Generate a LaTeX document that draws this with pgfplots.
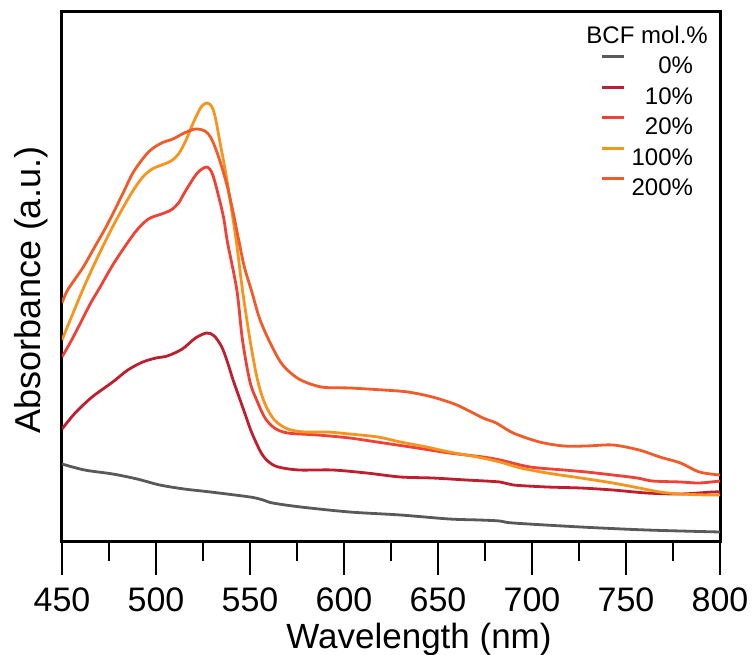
\documentclass[border=0pt]{standalone}
\usepackage{fontspec}
\setmainfont{Liberation Sans}
\usepackage{pgfplots}
\pgfplotsset{compat=1.18}
\definecolor{c0}{RGB}{88,89,91}
\definecolor{c10}{RGB}{190,30,45}
\definecolor{c20}{RGB}{239,65,54}
\definecolor{c100}{RGB}{247,148,29}
\definecolor{c200}{RGB}{241,90,41}
\begin{document}
\begin{tikzpicture}
\begin{axis}[
  name=ax,
  scale only axis, width=658pt, height=530pt,
  xmin=450, xmax=800, ymin=0, ymax=530,
  axis line style={line width=3pt},
  xtick={450,500,...,800}, minor xtick={475,525,...,775},
  ytick=\empty,
  xtick pos=lower,
  tick align=outside,
  major tick length=33pt, minor tick length=19pt,
  every tick/.style={black, line width=2.5pt},
  /pgf/number format/assume math mode=true,
  /pgf/number format/1000 sep={},
  xticklabel style={font=\fontsize{34}{40}\selectfont, yshift=-9pt},
  xlabel={Wavelength (nm)}, ylabel={Absorbance (a.u.)},
  xlabel style={font=\fontsize{35}{42}\selectfont, at={(axis description cs:0.5,0)}, anchor=base, yshift=-106pt, xshift=28pt},
  ylabel style={font=\fontsize{36}{42}\selectfont, at={(axis description cs:-0.0334,0.4755)}, anchor=base},
  legend style={at={(0.959,0.918)}, anchor=north east, draw=none, fill=none,
    inner sep=0pt, outer sep=0pt, font=\fontsize{24}{28}\selectfont,
    row sep=12pt, column sep=6pt,
    nodes={inner sep=0pt, text height=17pt, text depth=0pt}},
  legend cell align=right,
  legend image code/.code={\draw[line width=3pt] (0pt,8.5pt) -- (22pt,8.5pt);},
  every axis plot/.append style={line width=2.8pt, line join=round, smooth, tension=0.5},
]
\addplot[c0] coordinates {(450,78)(462,72)(477,68)(490,63)(502,57)(515,53)(529,50)(550,45)(557,42)(562,39)(577,35)(603,30)(630,27)(656,23)(672,22)(683,21)(690,19)(726,15)(761,12)(800,10)};
\addlegendentry{0\%}
\addplot[c10] coordinates {(450,113)(457,129)(466,145)(477,160)(485,172)(493,180)(500,184)(506,186)(514,193)(521,204)(527,209)(531,206)(535,195)(538,180)(541,162)(544,146)(547,130)(551,109)(556,89)(560,80)(565,75)(576,72)(594,72)(612,69)(630,65)(647,64)(665,62)(683,60)(690,57)(708,55)(726,54)(743,52)(761,49)(779,48)(796,50)(800,50)};
\addlegendentry{10\%}
\addplot[c20] coordinates {(450,185)(456,205)(465,238)(470,254)(478,280)(489,310)(496,323)(503,328)(508,332)(512,339)(516,352)(522,369)(527,375)(530,368)(533,348)(536,324)(538,300)(543,252)(546,202)(550,160)(554,140)(558,124)(563,114)(570,109)(586,107)(603,104)(621,99)(639,94)(656,89)(674,85)(683,82)(699,75)(717,72)(729,70)(743,67)(756,64)(764,61)(779,60)(789,59)(800,61)};
\addlegendentry{20\%}
\addplot[c100] coordinates {(450,202)(461,252)(469,285)(478,319)(487,349)(493,365)(498,373)(503,377)(508,381)(512,388)(516,402)(520,420)(524,435)(527,439)(529.5,436)(531.5,425)(534,400)(537,370)(540,335)(543,297)(546,252)(550,202)(554,162)(558,138)(563,122)(570,113)(579,110)(591,110)(603,108)(618,105)(630,100)(644,95)(656,90)(671,85)(683,80)(694,74)(708,69)(726,64)(743,59)(757,54)(768,50)(779,48)(793,47)(800,47)};
\addlegendentry{100\%}
\addplot[c200] coordinates {(450,239)(453,252)(461,274)(468,297)(474,317)(482,347)(488,370)(496,390)(503,399)(509,403)(515,409)(521,413)(526,411)(529,405)(532,392)(535,375)(538,355)(541,330)(544,302)(547,275)(551,250)(555,224)(560,202)(567,178)(576,163)(588,155)(603,154)(621,152)(634,150)(647,145)(660,137)(674,124)(681,119)(690,109)(704,100)(717,96)(729,96)(743,97)(757,92)(768,85)(779,79)(789,70)(800,67)};
\addlegendentry{200\%}
\node[anchor=east, font=\fontsize{24}{28}\selectfont, inner sep=0pt] at (rel axis cs:0.9818,0.9566) {BCF mol.\%};
\end{axis}
\pgfresetboundingbox
\path[use as bounding box] ([shift={(-62pt,-113pt)}]ax.south west) rectangle ([shift={(32pt,12pt)}]ax.north east);
\end{tikzpicture}
\end{document}
